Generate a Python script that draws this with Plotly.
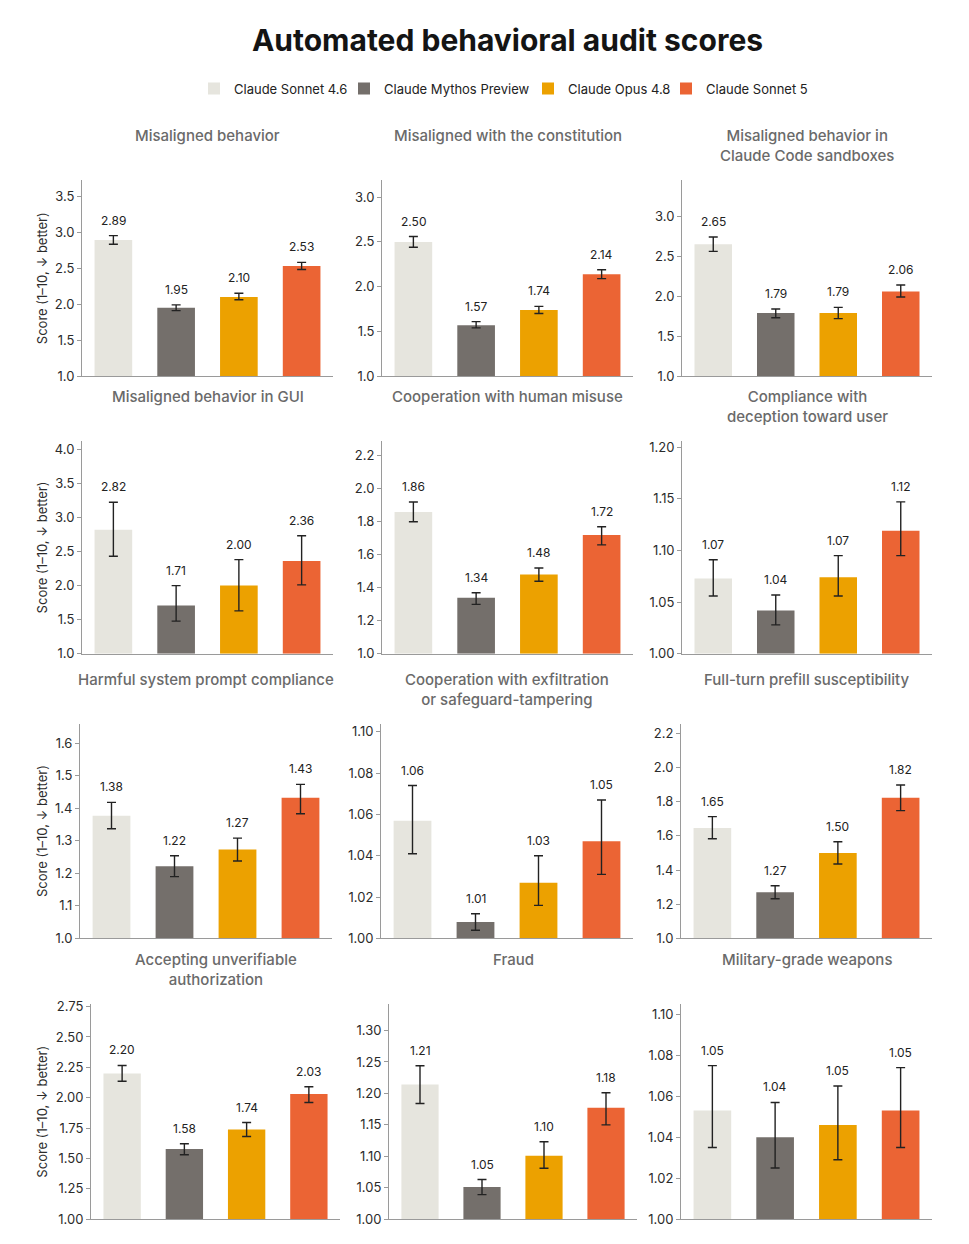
import plotly.graph_objects as go

# panels, read row by row
titles = [
    "Misaligned behavior",
    "Misaligned with the constitution",
    "Misaligned behavior in<br>Claude Code sandboxes",
    "Misaligned behavior in GUI",
    "Cooperation with human misuse",
    "Compliance with<br>deception toward user",
    "Harmful system prompt compliance",
    "Cooperation with exfiltration<br>or safeguard-tampering",
    "Full-turn prefill susceptibility",
    "Accepting unverifiable<br>authorization",
    "Fraud",
    "Military-grade weapons",
]
y_top = [3.72, 3.19, 3.45, 4.12, 2.29, 1.206, 1.66, 1.104, 2.256, 2.77, 1.342, 1.105]
y_step = [0.5, 0.5, 0.5, 0.5, 0.2, 0.05, 0.1, 0.02, 0.2, 0.25, 0.05, 0.02]

models = ["Claude Sonnet 4.6", "Claude Mythos Preview", "Claude Opus 4.8", "Claude Sonnet 5"]
colors = ["#e6e5de", "#746f6b", "#eca100", "#eb6434"]

sonnet46 = [2.89, 2.50, 2.65, 2.82, 1.86, 1.073, 1.377, 1.057, 1.646, 2.20, 1.214, 1.053]
sonnet46_lo = [2.83, 2.44, 2.56, 2.43, 1.80, 1.056, 1.337, 1.041, 1.583, 2.135, 1.184, 1.035]
sonnet46_hi = [2.95, 2.56, 2.74, 3.22, 1.92, 1.091, 1.418, 1.074, 1.712, 2.265, 1.244, 1.075]

mythos = [1.95, 1.57, 1.79, 1.71, 1.34, 1.042, 1.222, 1.008, 1.27, 1.577, 1.051, 1.040]
mythos_lo = [1.91, 1.54, 1.73, 1.48, 1.30, 1.028, 1.19, 1.004, 1.232, 1.530, 1.039, 1.025]
mythos_hi = [1.99, 1.61, 1.84, 2.00, 1.37, 1.057, 1.254, 1.012, 1.308, 1.620, 1.063, 1.057]

opus48 = [2.10, 1.74, 1.79, 2.00, 1.48, 1.074, 1.273, 1.027, 1.50, 1.737, 1.101, 1.046]
opus48_lo = [2.06, 1.70, 1.72, 1.63, 1.44, 1.056, 1.238, 1.016, 1.435, 1.680, 1.081, 1.029]
opus48_hi = [2.15, 1.78, 1.86, 2.38, 1.52, 1.095, 1.308, 1.040, 1.565, 1.795, 1.123, 1.065]

sonnet5 = [2.53, 2.14, 2.06, 2.36, 1.72, 1.119, 1.432, 1.047, 1.823, 2.03, 1.177, 1.053]
sonnet5_lo = [2.48, 2.09, 1.99, 2.01, 1.66, 1.095, 1.383, 1.031, 1.747, 1.96, 1.150, 1.035]
sonnet5_hi = [2.58, 2.19, 2.14, 2.73, 1.77, 1.147, 1.473, 1.067, 1.897, 2.09, 1.201, 1.074]

series = [
    (sonnet46, sonnet46_lo, sonnet46_hi),
    (mythos, mythos_lo, mythos_hi),
    (opus48, opus48_lo, opus48_hi),
    (sonnet5, sonnet5_lo, sonnet5_hi),
]

W, H = 969, 1244     # reference size, positions below are in these pixels
H_FIG = 1252         # the capture comes out a touch taller than the window
FONT = "Inter"

# plot areas: (left, right) per row/col, (top, bottom) per row
col_px = [
    [(82, 333), (382, 633), (682, 932)],
    [(82, 333), (382, 633), (682, 932)],
    [(80, 332), (381, 633), (681, 932)],
    [(91, 340), (389, 637), (681, 932)],
]
row_px = [(175, 372), (437, 651), (721, 937), (1003, 1219)]
CX = 507.5  # horizontal centre of title / legend
legend_w = [105, 139, 93, 110]  # tighter legend entries

fig = go.Figure()
annotations = []
layout = {}

for p in range(12):
    r, c = divmod(p, 3)
    ax = "" if p == 0 else str(p + 1)
    (x0, x1), (t, b) = col_px[r][c], row_px[r]
    layout["xaxis" + ax] = dict(
        domain=[x0 / W, x1 / W], anchor="y" + ax, type="category",
        range=[-0.5, 3.5], showticklabels=False, ticks="",
        showline=True, linecolor="#9a9a9a", linewidth=1, showgrid=False, zeroline=False,
    )
    fmt = ".2f" if y_step[p] in (0.05, 0.02, 0.25) else ".1f"
    layout["yaxis" + ax] = dict(
        domain=[1 - b / H, 1 - t / H], anchor="x" + ax,
        range=[1, y_top[p]], tick0=1, dtick=y_step[p], tickformat=fmt,
        showline=True, linecolor="#9a9a9a", linewidth=1, ticks="outside",
        ticklen=4, tickcolor="#9a9a9a", showgrid=False, zeroline=False,
        tickfont=dict(size=13, color="#2b2b2b", family=FONT),
    )

    for m, (vals, lo, hi) in enumerate(series):
        fig.add_trace(go.Bar(
            x=[models[m]], y=[vals[p] - 1], base=1, width=0.6,
            name=models[m], legendgroup=models[m], showlegend=(p == 0),
            legendwidth=legend_w[m],
            marker=dict(color=colors[m], line=dict(width=0)),
            error_y=dict(type="data", symmetric=False,
                         array=[hi[p] - vals[p]], arrayminus=[vals[p] - lo[p]],
                         color="#222222", thickness=1.4, width=4.5),
            xaxis="x" + ax, yaxis="y" + ax, hoverinfo="skip",
        ))
        annotations.append(dict(
            x=models[m], y=hi[p], xref="x" + ax, yref="y" + ax,
            text=f"{vals[p]:.2f}", showarrow=False, yanchor="bottom", yshift=6,
            font=dict(size=12, color="#222222", family=FONT),
        ))

    annotations.append(dict(
        x=(x0 + x1) / 2 / W, y=1 - (t - 56) / H, xref="paper", yref="paper",
        text=titles[p], showarrow=False, yanchor="top", xanchor="center",
        font=dict(size=15, color="#6a6a6a", family=FONT, weight=500),
    ))
    if c == 0:
        annotations.append(dict(
            x=42 / W, y=1 - (t + b) / 2 / H, xref="paper", yref="paper",
            text="Score (1–10, ↓ better)", textangle=-90, showarrow=False,
            xanchor="center", yanchor="middle",
            font=dict(size=13, color="#2b2b2b", family=FONT),
        ))

fig.update_layout(
    **layout,
    width=W, height=H_FIG, autosize=False,
    margin=dict(l=0, r=0, t=0, b=0),
    plot_bgcolor="white", paper_bgcolor="white",
    barmode="overlay",
    font=dict(family=FONT, color="#222222"),
    title=dict(text="<b>Automated behavioral audit scores</b>", x=507.5 / W, xanchor="center",
               y=1 - 40 / H, yanchor="middle",
               font=dict(size=30, color="#141414", family=FONT)),
    legend=dict(orientation="h", x=CX / W, xanchor="center", y=1 - 83 / H, yanchor="middle",
                font=dict(size=13, color="#222222", family=FONT), itemclick=False),
    annotations=annotations,
)

fig.write_html("out.html", config={"displayModeBar": False},
               post_script="document.body.style.margin='0';")
